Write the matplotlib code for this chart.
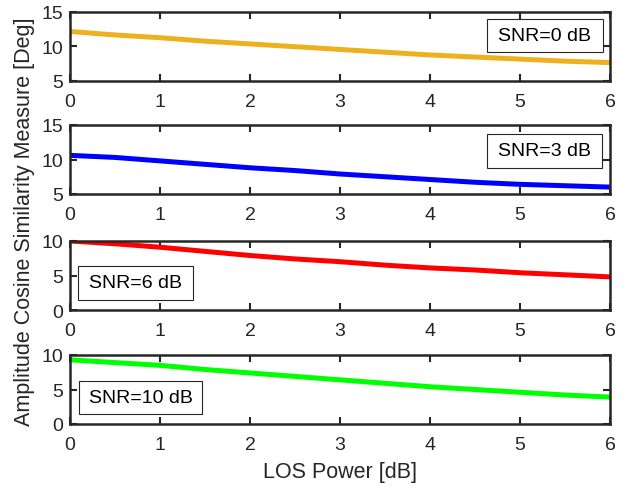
import matplotlib
matplotlib.use("Agg")
import matplotlib.pyplot as plt
from matplotlib.patches import Rectangle

plt.rcParams['font.family'] = ['Liberation Sans', 'DejaVu Sans']

# LOS power axis
los_db = [0, 0.5, 1, 1.5, 2, 2.5, 3, 3.5, 4, 4.5, 5, 5.5, 6]

# amplitude cosine similarity [deg] per SNR
snr0 = [12.1, 11.6, 11.2, 10.7, 10.3, 9.9, 9.5, 9.1, 8.7, 8.4, 8.1, 7.8, 7.6]
snr3 = [10.6, 10.3, 9.8, 9.3, 8.8, 8.4, 7.9, 7.5, 7.1, 6.7, 6.4, 6.2, 6.0]
snr6 = [10.0, 9.6, 9.1, 8.5, 7.9, 7.4, 7.0, 6.5, 6.1, 5.8, 5.4, 5.1, 4.8]
snr10 = [9.3, 8.9, 8.5, 7.9, 7.4, 6.9, 6.4, 5.9, 5.4, 5.0, 4.6, 4.2, 3.9]

series = [snr0, snr3, snr6, snr10]
labels = ["SNR=0 dB", "SNR=3 dB", "SNR=6 dB", "SNR=10 dB"]
colors = ["#EDB120", "#0000FF", "#FF0000", "#00FF00"]
ylims = [(5, 15), (5, 15), (0, 10), (0, 10)]
yticks = [[5, 10, 15], [5, 10, 15], [0, 5, 10], [0, 5, 10]]

W, H = 629.0, 489.0
tops = [12.5, 126, 242, 356]
left, right = 70, 610
h = 69
# label boxes in pixels: x0, x1, y0, y1
boxes = [(487, 603, 20, 53), (487, 602, 135, 169), (78, 193, 267, 301), (79, 202, 382, 415)]

fig = plt.figure(figsize=(6.29, 4.89), dpi=100)
dark = '#262626'

for i in range(4):
    ax = fig.add_axes([left / W, 1 - (tops[i] + h) / H, (right - left) / W, h / H])
    ax.plot(los_db, series[i], color=colors[i], lw=3.6, solid_capstyle='butt')
    ax.set_xlim(0, 6)
    ax.set_ylim(*ylims[i])
    ax.set_yticks(yticks[i])
    ax.set_xticks(range(7))
    ax.tick_params(direction='in', top=True, right=True, length=5, width=1.5,
                   labelsize=14, colors=dark)
    ax.tick_params(axis='x', pad=9)
    ax.tick_params(axis='y', pad=5)
    for s in ax.spines.values():
        s.set_linewidth(1.8)
        s.set_color(dark)
    x0, x1, y0, y1 = boxes[i]
    fx0 = (x0 - left) / (right - left)
    fx1 = (x1 - left) / (right - left)
    fy0 = 1 - (y1 - tops[i]) / h
    fy1 = 1 - (y0 - tops[i]) / h
    ax.add_patch(Rectangle((fx0, fy0), fx1 - fx0, fy1 - fy0, transform=ax.transAxes,
                           fc='white', ec=dark, lw=0.8, zorder=5))
    ax.text((fx0 + fx1) / 2, (fy0 + fy1) / 2, labels[i], transform=ax.transAxes,
            fontsize=14, ha='center', va='center', color='black', zorder=6)

fig.text(25 / W, 1 - 222 / H, "Amplitude Cosine Similarity Measure [Deg]", rotation=90,
         ha='center', va='center', fontsize=15.5, color=dark)
fig.text((left + right) / 2 / W, 1 - 473 / H, "LOS Power [dB]", ha='center', va='center',
         fontsize=15.5, color=dark)

fig.savefig("out.png", dpi=100)
